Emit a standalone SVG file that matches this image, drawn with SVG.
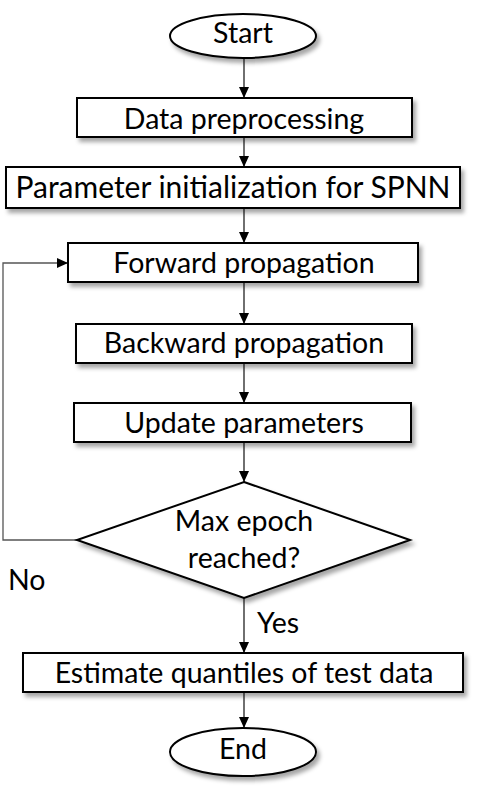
<svg xmlns="http://www.w3.org/2000/svg" width="484" height="786" viewBox="0 0 484 786">
<style>
.node{fill:#fff;stroke:#000;stroke-width:2;filter:url(#sh)}
.t{font-family:Lato,"Liberation Sans",sans-serif;font-size:28.5px;fill:#000;text-anchor:middle}
.c{fill:none;stroke:#222;stroke-width:1.3;marker-end:url(#ah)}
.loop{fill:none;stroke:#555;stroke-width:1.3;marker-end:url(#ah)}
</style>
<defs>
<filter id="sh" x="-10%" y="-20%" width="130%" height="160%">
<feDropShadow dx="3" dy="4" stdDeviation="2" flood-color="#000" flood-opacity="0.35"/>
</filter>
<marker id="ah" markerUnits="userSpaceOnUse" markerWidth="12" markerHeight="10" refX="11" refY="5" orient="auto">
<path d="M0,0 L11,5 L0,10 Z" fill="#000"/>
</marker>
</defs>
<g id="connectors">
<line class="c" x1="244" y1="58" x2="244" y2="98"/>
<line class="c" x1="244" y1="137" x2="244" y2="167"/>
<line class="c" x1="244" y1="208" x2="244" y2="243"/>
<line class="c" x1="244" y1="282" x2="244" y2="324"/>
<line class="c" x1="244" y1="363" x2="244" y2="403"/>
<line class="c" x1="244" y1="442" x2="244" y2="482"/>
<line class="c" x1="244" y1="598" x2="244" y2="653"/>
<line class="c" x1="244" y1="692" x2="244" y2="728"/>
<polyline class="loop" points="77,540 3,540 3,263 68,263"/>
<text class="t" x="8" y="590" style="text-anchor:start">No</text>
<text class="t" x="257" y="633" style="text-anchor:start">Yes</text>
</g>
<g id="start">
<ellipse class="node" cx="243" cy="36" rx="73" ry="22"/>
<text class="t" x="243" y="43">Start</text>
</g>
<g id="data">
<rect class="node" x="77" y="98" width="335" height="39"/>
<text class="t" x="244" y="129">Data preprocessing</text>
</g>
<g id="param">
<rect class="node" x="6" y="167" width="454" height="41"/>
<text class="t" x="233" y="198" style="font-size:30px">Parameter initialization for SPNN</text>
</g>
<g id="forward">
<rect class="node" x="68" y="243" width="350" height="39"/>
<text class="t" x="244" y="273">Forward propagation</text>
</g>
<g id="backward">
<rect class="node" x="76" y="324" width="336" height="39"/>
<text class="t" x="244" y="353">Backward propagation</text>
</g>
<g id="update">
<rect class="node" x="74" y="403" width="337" height="39"/>
<text class="t" x="244" y="433">Update parameters</text>
</g>
<g id="decision">
<polygon class="node" points="244,482 410,540 244,598 77,540"/>
<text class="t" x="244" y="531">Max epoch</text>
<text class="t" x="244" y="568">reached?</text>
</g>
<g id="estimate">
<rect class="node" x="23" y="653" width="440" height="39"/>
<text class="t" x="244" y="683">Estimate quantiles of test data</text>
</g>
<g id="end">
<ellipse class="node" cx="243" cy="752" rx="73" ry="24"/>
<text class="t" x="243" y="759">End</text>
</g>
</svg>
